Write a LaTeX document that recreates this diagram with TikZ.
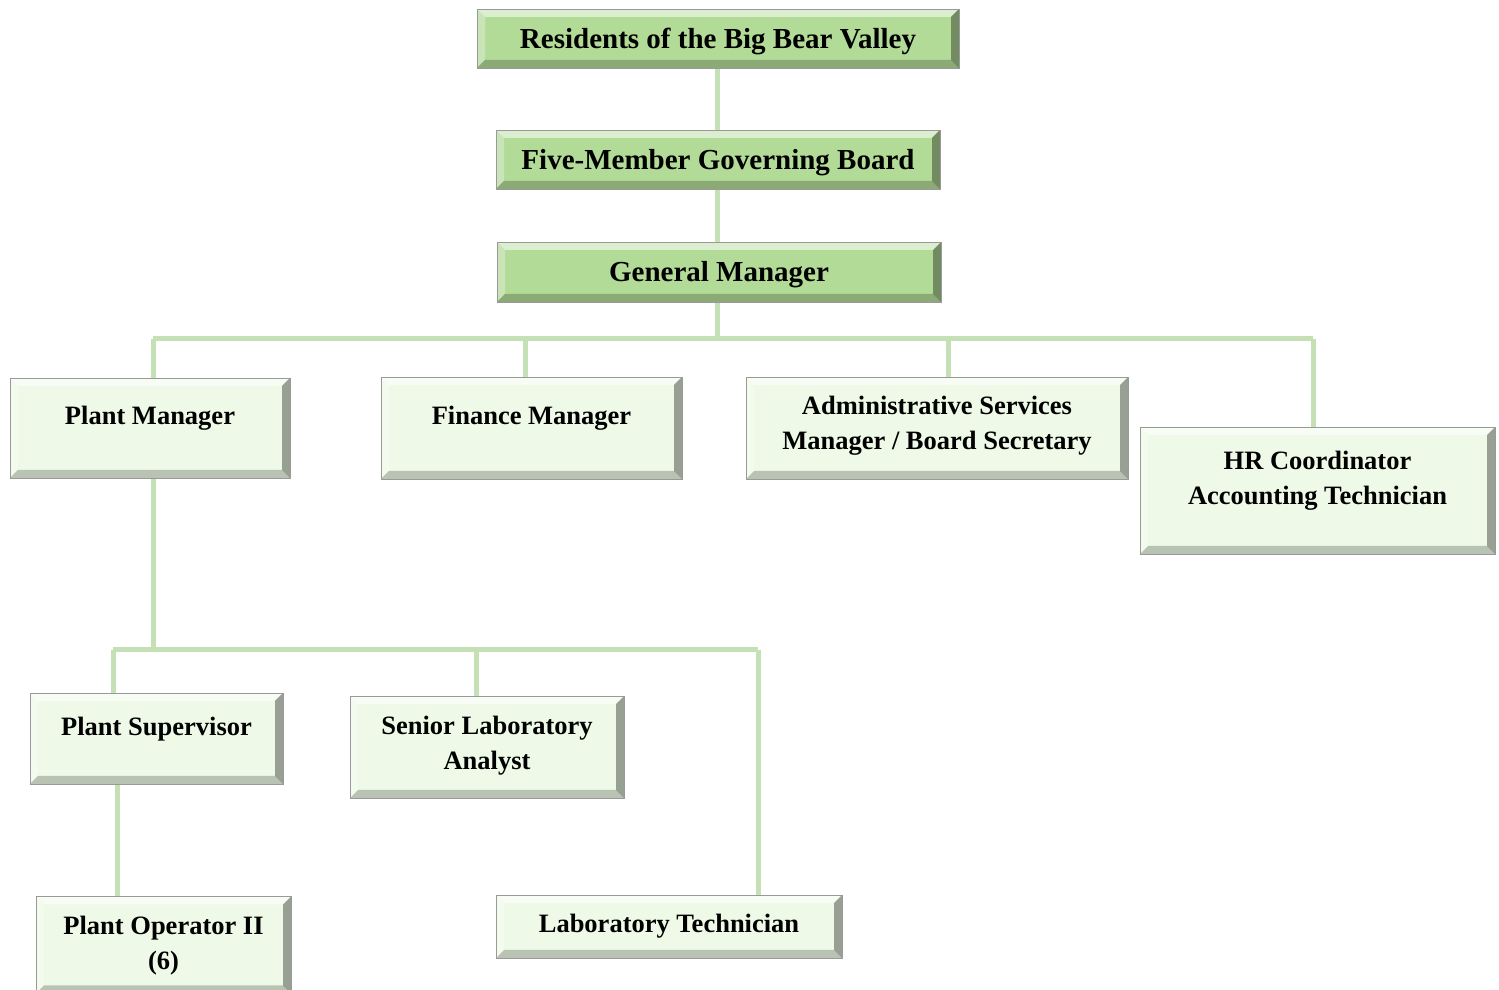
\documentclass[tikz,border=0pt]{standalone}
\usepackage{fontspec}
\setmainfont{Liberation Serif}
\usetikzlibrary{backgrounds}
\definecolor{topg}{HTML}{B3DB98}
\definecolor{lowg}{HTML}{EEFAE7}
\definecolor{conn}{HTML}{C5E0B4}
\tikzset{
  bev/.style={draw=black!40, line width=0.8pt, inner sep=0pt,
    path picture={
      \coordinate (bbsw) at (path picture bounding box.south west);
      \coordinate (bbne) at (path picture bounding box.north east);
      \coordinate (bbnw) at (path picture bounding box.north west);
      \coordinate (bbse) at (path picture bounding box.south east);
      \fill[white,opacity=.55] (bbnw) -- (bbne) -- ([shift={(-8pt,-8pt)}]bbne) -- ([shift={(8pt,-8pt)}]bbnw) -- cycle;
      \fill[white,opacity=.3] (bbnw) -- ([shift={(8pt,-8pt)}]bbnw) -- ([shift={(8pt,8pt)}]bbsw) -- (bbsw) -- cycle;
      \fill[black,opacity=.22] (bbsw) -- ([shift={(8pt,8pt)}]bbsw) -- ([shift={(-8pt,8pt)}]bbse) -- (bbse) -- cycle;
      \fill[black,opacity=.36] (bbse) -- ([shift={(-8pt,8pt)}]bbse) -- ([shift={(-8pt,-8pt)}]bbne) -- (bbne) -- cycle;
    }},
  topbox/.style={bev, fill=topg},
  lowbox/.style={bev, fill=lowg},
  toptxt/.style={font=\bfseries\fontsize{29}{35}\selectfont, inner sep=0pt, align=center},
  lowtxt/.style={font=\bfseries\fontsize{26.5}{35}\selectfont, inner sep=0pt, align=center},
  link/.style={draw=conn, line width=5pt}
}
\begin{document}
\begin{tikzpicture}[x=1pt,y=1pt]
\useasboundingbox (0,0) rectangle (1499,990);
% boxes
\node[topbox, minimum width=482pt, minimum height=59pt] (res) at (718,951.5) {};
\node[topbox, minimum width=444pt, minimum height=59pt] (five) at (718,830.5) {};
\node[topbox, minimum width=444pt, minimum height=60pt] (gm) at (719,718) {};
\node[lowbox, minimum width=280pt, minimum height=100pt] (pm) at (150,562) {};
\node[lowbox, minimum width=301pt, minimum height=102pt] (fm) at (531.5,562) {};
\node[lowbox, minimum width=382pt, minimum height=102pt] (asm) at (937,562) {};
\node[lowbox, minimum width=355pt, minimum height=127pt] (hr) at (1317.5,499.5) {};
\node[lowbox, minimum width=253pt, minimum height=91pt] (ps) at (156.5,251.5) {};
\node[lowbox, minimum width=274pt, minimum height=102pt] (sla) at (487,243) {};
\node[lowbox, minimum width=255pt, minimum height=97pt] (po) at (163.5,45) {};
\node[lowbox, minimum width=346pt, minimum height=63pt] (lt) at (669,63.5) {};
% bus points
\coordinate (b1) at (717,651);
\coordinate (b1l) at (153,651);
\coordinate (b1f) at (525,651);
\coordinate (b1a) at (948,651);
\coordinate (b1r) at (1313,651);
\coordinate (b2) at (153,340);
\coordinate (b2l) at (113,340);
\coordinate (b2s) at (476,340);
\coordinate (b2r) at (758,340);
% connectors (behind boxes)
\begin{scope}[on background layer]
\draw[link] (717,0 |- res.south) -- (717,0 |- five.north);
\draw[link] (717,0 |- five.south) -- (717,0 |- gm.north);
\draw[link] (b1 |- gm.south) -- (b1);
\draw[link] (b1l) -- (b1r);
\draw[link] (b1l) -- (b1l |- pm.north);
\draw[link] (b1f) -- (b1f |- fm.north);
\draw[link] (b1a) -- (b1a |- asm.north);
\draw[link] (b1r) -- (b1r |- hr.north);
\draw[link] (b2 |- pm.south) -- (b2);
\draw[link] (b2l) -- (b2r);
\draw[link] (b2l) -- (b2l |- ps.north);
\draw[link] (b2s) -- (b2s |- sla.north);
\draw[link] (b2r) -- (b2r |- lt.north);
\draw[link] (117,0 |- ps.south) -- (117,0 |- po.north);
\end{scope}
% texts
\node[toptxt] (rest) at (718,948.5) {Residents of the Big Bear Valley};
\node[toptxt] (fivet) at (718,827.5) {Five-Member Governing Board};
\node[toptxt] (gmt) at (719,715) {General Manager};
\node[lowtxt] (pmt) at (150,571.5) {Plant Manager};
\node[lowtxt] (fmt) at (531.5,571.5) {Finance Manager};
\node[lowtxt] (asmt) at (937,564) {Administrative Services\\Manager / Board Secretary};
\node[lowtxt] (hrt) at (1317.5,509) {HR Coordinator\\Accounting Technician};
\node[lowtxt] (pst) at (156.5,260.5) {Plant Supervisor};
\node[lowtxt] (slat) at (487,244) {Senior Laboratory\\Analyst};
\node[lowtxt] (pot) at (163.5,44) {Plant Operator II\\(6)};
\node[lowtxt] (ltt) at (669,63.5) {Laboratory Technician};
\end{tikzpicture}
\end{document}
